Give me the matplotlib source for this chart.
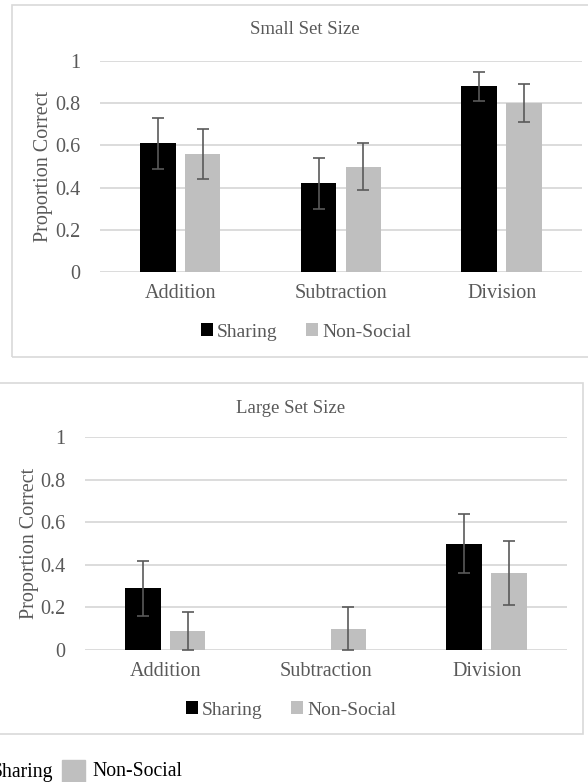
import matplotlib.pyplot as plt
from matplotlib.patches import Rectangle
import numpy as np

plt.rcParams["font.family"] = ["Liberation Serif", "DejaVu Serif"]

categories = ["Addition", "Subtraction", "Division"]
series = ["Sharing", "Non-Social"]

small_sharing = [0.61, 0.42, 0.88]
small_sharing_err = [0.12, 0.12, 0.07]
small_nonsocial = [0.56, 0.50, 0.80]
small_nonsocial_err = [0.12, 0.11, 0.09]

large_sharing = [0.29, 0.0, 0.50]
large_sharing_err = [0.13, 0.0, 0.14]
large_nonsocial = [0.09, 0.10, 0.36]
large_nonsocial_err = [0.09, 0.10, 0.15]

yticks = [0, 0.2, 0.4, 0.6, 0.8, 1]
ytick_labels = ["0", "0.2", "0.4", "0.6", "0.8", "1"]

TXT = "#595959"
GRID = "#d9d9d9"
BLACK = "#000000"
GRAY = "#bfbfbf"
W, H = 588, 782


def px_axes(left, top, right, bottom):
    return [left / W, 1 - bottom / H, (right - left) / W, (bottom - top) / H]


def bars_with_err(ax, xs, vals, errs, color, label):
    ax.bar(xs, vals, 0.22, color=color, label=label, zorder=3)
    vals = np.asarray(vals)
    errs = np.asarray(errs)
    keep = errs > 0  # zero-width error bars are not shown in the original
    ax.errorbar(xs[keep], vals[keep], yerr=errs[keep], fmt="none",
                ecolor="#5a5a5a", elinewidth=1.2, capsize=4, capthick=1.2,
                zorder=4)


def draw_panel(ax, title, s_vals, s_err, n_vals, n_err, box, title_xy,
               ylab_x, leg_xy, ax_tb):
    x = np.arange(len(categories))
    bars_with_err(ax, x - 0.14, s_vals, s_err, BLACK, series[0])
    bars_with_err(ax, x + 0.14, n_vals, n_err, GRAY, series[1])
    ax.set_xlim(-0.5, 2.5)
    ax.set_ylim(0, 1)
    ax.set_yticks(yticks)
    ax.set_yticklabels(ytick_labels)
    ax.set_xticks(x)
    ax.set_xticklabels(categories)
    ax.tick_params(axis="both", length=0, labelsize=14.5, colors=TXT)
    ax.tick_params(axis="y", pad=14)
    ax.tick_params(axis="x", pad=9)
    for yv in yticks:
        ax.axhline(yv, color=GRID, lw=1.3, zorder=1)
    for sp in ax.spines.values():
        sp.set_visible(False)
    fig.text(ylab_x / W, 1 - (ax_tb[0] + ax_tb[1]) / 2 / H,
             "Proportion Correct", rotation=90, ha="center", va="center",
             fontsize=14.5, color=TXT)
    fig.text(title_xy[0] / W, 1 - title_xy[1] / H, title, ha="center",
             va="center", fontsize=13.5, color=TXT)
    l, t, r, b = box
    fig.patches.append(Rectangle((l / W, 1 - b / H), (r - l) / W, (b - t) / H,
                                 transform=fig.transFigure, fill=False,
                                 edgecolor=GRID, lw=1.2))
    leg = ax.legend(loc="center", bbox_to_anchor=(leg_xy[0] / W, 1 - leg_xy[1] / H),
                    bbox_transform=fig.transFigure, ncol=2, frameon=False,
                    handlelength=0.6, handleheight=0.6, handletextpad=0.2,
                    columnspacing=1.5, fontsize=14)
    for t_ in leg.get_texts():
        t_.set_color(TXT)


fig = plt.figure(figsize=(W / 100, H / 100), dpi=100)

ax1 = fig.add_axes(px_axes(100, 61, 582, 272))
draw_panel(ax1, "Small Set Size", small_sharing, small_sharing_err,
           small_nonsocial, small_nonsocial_err, (12, 5, 600, 357),
           (305, 30), 44, (306, 332), (61, 272))

ax2 = fig.add_axes(px_axes(85, 437, 567, 650))
draw_panel(ax2, "Large Set Size", large_sharing, large_sharing_err,
           large_nonsocial, large_nonsocial_err, (-5, 383, 583, 734),
           (291, 409), 30, (291, 710), (437, 650))

# cropped legend at the bottom edge
fig.text(53 / W, 1 - 772 / H, "Sharing", ha="right", va="center",
         fontsize=14.2, color="#000000")
fig.patches.append(Rectangle((62 / W, 0), 23 / W, 22 / H,
                             transform=fig.transFigure, color=GRAY))
fig.text(92 / W, 1 - 772 / H, "Non-Social", ha="left", va="center",
         fontsize=14.2, color="#000000")

fig.savefig("out.png", dpi=100)
